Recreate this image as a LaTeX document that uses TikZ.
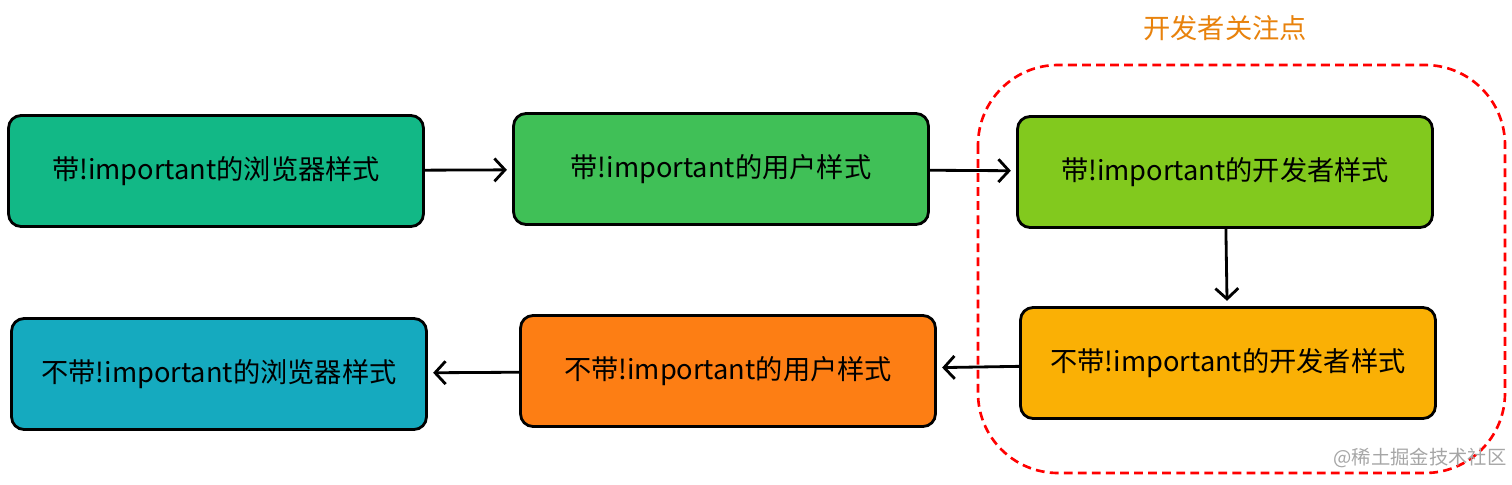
\documentclass[tikz,border=0pt]{standalone}
\usepackage{fontspec}
\setmainfont{Noto Sans CJK SC}
\usetikzlibrary{arrows.meta}
\definecolor{teal1}{HTML}{12B886}
\definecolor{green1}{HTML}{40C057}
\definecolor{lime1}{HTML}{82C91E}
\definecolor{amber1}{HTML}{FAB005}
\definecolor{orange1}{HTML}{FD7E14}
\definecolor{cyan1}{HTML}{15AABF}
\definecolor{title1}{HTML}{E8820C}
\begin{document}
\begin{tikzpicture}[x = 0.02cm, y = -0.02cm,
    every node/.style = {font = \fontsize{15.5}{18}\selectfont},
    stagebox/.style = {draw, line width = 1.6pt, rounded corners = 0.25cm,
                       minimum width = 8.3cm, minimum height = 2.22cm},
    flow/.style = {line width = 1.6pt, shorten >= 3pt,
                   -{Straight Barb[length = 6pt, width = 13pt]}}]
  \useasboundingbox (0, 0) rectangle (1512, 484);

  \node [stagebox, fill = teal1]   (b1) at (216, 171) {带!important的浏览器样式};
  \node [stagebox, fill = green1]  (b2) at (721, 169) {带!important的用户样式};
  \node [stagebox, fill = lime1]   (b3) at (1225, 172) {带!important的开发者样式};
  \node [stagebox, fill = amber1]  (b4) at (1228, 363) {不带!important的开发者样式};
  \node [stagebox, fill = orange1] (b5) at (728, 371) {不带!important的用户样式};
  \node [stagebox, fill = cyan1]   (b6) at (219, 374) {不带!important的浏览器样式};

  \draw [flow] (b1) -- (b2);
  \draw [flow] (b2) -- (b3);
  \draw [flow] (b3) -- (b4);
  \draw [flow] (b4) -- (b5);
  \draw [flow] (b5) -- (b6);

  % developer area
  \draw [red, line width = 1.5pt, dash pattern = on 5pt off 3pt,
         rounded corners = 1.6cm] (978, 65) rectangle (1505, 473);
  \node [text = title1] (focus) at (1225, 28) {开发者关注点};
  \node [text = gray!70, font = \fontsize{11}{13}\selectfont] (mark) at (1420, 458) {@稀土掘金技术社区};
\end{tikzpicture}
\end{document}
